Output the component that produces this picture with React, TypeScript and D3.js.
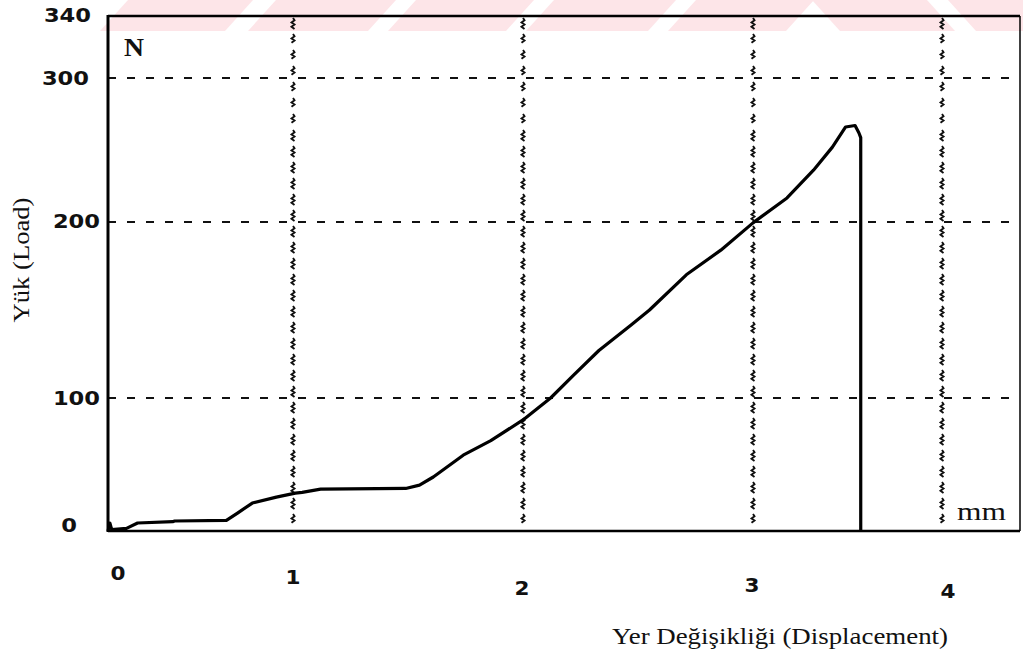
import React from "react";
import * as d3 from "d3";

// ---- data ----
const dispMm = [0, 0.01, 0.02, 0.1, 0.16, 0.35, 0.36, 0.64, 0.7, 0.78, 0.91, 1.01, 1.04, 1.12, 1.49, 1.55, 1.61, 1.74, 1.86, 2.0, 2.12, 2.22, 2.33, 2.47, 2.55, 2.71, 2.86, 3.0, 3.18, 3.32, 3.42, 3.49, 3.54, 3.56, 3.57, 3.57];
const loadN = [0, 6, 1, 2, 6, 7, 7.5, 8, 13.5, 21, 25.5, 28.5, 29, 31.5, 32, 34.5, 40.6, 57, 68, 83.5, 100, 113, 127, 141.5, 150, 170, 184, 199.5, 216.7, 236, 252, 266, 267, 262, 258.6, 0];
const xTicks = [0, 1, 2, 3, 4];
const yTicks = [0, 100, 200, 300, 340];
const yGrid = [100, 200, 300];
const xGrid = [1, 2, 3, 4];
const yTitle = "Yük (Load)";
const xTitle = "Yer Değişikliği (Displacement)";
const yUnit = "N";
const xUnit = "mm";

// ---- layout ----
const W = 1023;
const H = 657;
const LEFT = 108;
const RIGHT = 1020;
const TOP = 16;
const BOTTOM = 531;
// the plotter's axes are not uniform, so piecewise scales
const x = d3.scaleLinear().domain([0, 1, 2, 3, 4, 4.4]).range([LEFT, 293, 523, 753, 942, RIGHT]);
const y = d3.scaleLinear().domain([0, 100, 200, 300, 340]).range([BOTTOM, 398, 222, 78, TOP]);
const xLabelNudge = [[10, 42], [0, 46], [-1, 57], [-1, 54], [6, 60]];
const yLabelNudge = [[-23, -6], [0, 0], [0, -1], [-11, 0], [-9, -1]];

function squiggle(x0: number, y0: number, y1: number) {
  const p = d3.path();
  const seg = 11, gap = 5, step = 2.2, amp = 1.5;
  for (let s = y0 + 2; s < y1; s += seg + gap) {
    const e = Math.min(s + seg, y1);
    p.moveTo(x0, s);
    let k = 0;
    for (let t = s + step; t <= e; t += step) {
      k++;
      p.lineTo(x0 + (k % 2 ? amp : -amp), t);
    }
  }
  return p.toString();
}

const stripes = [
  { x0: 100, w: 125, dir: 1 },
  { x0: 248, w: 120, dir: 1 },
  { x0: 388, w: 118, dir: 1 },
  { x0: 526, w: 122, dir: 1 },
  { x0: 668, w: 118, dir: 1 },
  { x0: 812, w: 115, dir: -1 },
  { x0: 948, w: 110, dir: -1 },
];

export default function App() {
  const line = d3
    .line<number>()
    .x((_, i) => x(dispMm[i]))
    .y((d) => y(d));
  const digitFont = "'DejaVu Sans', sans-serif";
  const serif = "'Liberation Serif', 'Times New Roman', serif";
  return (
    <svg width={W} height={H} style={{ position: "absolute", left: 0, top: 0, background: "#fff" }}>
      <rect x={0} y={0} width={W} height={H} fill="#fff" />
      {/* watermark stripes */}
      {stripes.map((s, i) => {
        const sk = 28 * s.dir;
        const pts =
          s.dir > 0
            ? `${s.x0 + sk},0 ${s.x0 + s.w + sk},0 ${s.x0 + s.w},31 ${s.x0},31`
            : `${s.x0},0 ${s.x0 + s.w},0 ${s.x0 + s.w - sk},31 ${s.x0 - sk},31`;
        return <polygon key={i} points={pts} fill="#fde5e8" />;
      })}
      {/* horizontal dashed grid */}
      {yGrid.map((v) => (
        <line key={v} x1={LEFT} x2={RIGHT} y1={y(v)} y2={y(v)} stroke="#111" strokeWidth={2.2} strokeDasharray="8 11" />
      ))}
      {/* vertical squiggly grid */}
      {xGrid.map((v) => (
        <path key={v} d={squiggle(x(v), TOP, BOTTOM)} fill="none" stroke="#111" strokeWidth={1.9} />
      ))}
      {/* frame */}
      <line x1={LEFT} x2={RIGHT} y1={TOP} y2={TOP} stroke="#000" strokeWidth={2.5} />
      <line x1={LEFT} x2={RIGHT} y1={BOTTOM} y2={BOTTOM} stroke="#000" strokeWidth={2.5} />
      <line x1={RIGHT} x2={RIGHT} y1={TOP} y2={BOTTOM} stroke="#000" strokeWidth={1.5} />
      <line x1={LEFT} x2={LEFT} y1={TOP - 1} y2={BOTTOM + 1} stroke="#000" strokeWidth={3} />
      {/* curve */}
      <path d={line(loadN) || ""} fill="none" stroke="#000" strokeWidth={3.2} strokeLinejoin="round" />
      {/* y tick labels */}
      {yTicks.map((v, i) => {
        const txt = String(v);
        return (
          <text
            key={v}
            x={100 + yLabelNudge[i][0]}
            y={y(v) + yLabelNudge[i][1] + 7}
            textAnchor="end"
            fontFamily={digitFont}
            fontWeight="bold"
            fontSize={19.5}
            textLength={15.7 * txt.length}
            lengthAdjust="spacingAndGlyphs"
            fill="#111"
          >
            {txt}
          </text>
        );
      })}
      {/* x tick labels */}
      {xTicks.map((v, i) => (
        <text
          key={v}
          x={x(v) + xLabelNudge[i][0]}
          y={BOTTOM + xLabelNudge[i][1] + 7}
          textAnchor="middle"
          fontFamily={digitFont}
          fontWeight="bold"
          fontSize={19.5}
          textLength={15}
          lengthAdjust="spacingAndGlyphs"
          fill="#111"
        >
          {String(v)}
        </text>
      ))}
      {/* unit labels */}
      <text x={124} y={56} fontFamily={serif} fontWeight="bold" fontSize={26} textLength={20} lengthAdjust="spacingAndGlyphs" fill="#111">
        {yUnit}
      </text>
      <text x={957} y={520} fontFamily={serif} fontSize={26} textLength={49} lengthAdjust="spacingAndGlyphs" fill="#111">
        {xUnit}
      </text>
      {/* axis titles */}
      <text
        transform={`translate(29,260) rotate(-90)`}
        textAnchor="middle"
        fontFamily={serif}
        fontSize={24}
        textLength={125}
        lengthAdjust="spacingAndGlyphs"
        fill="#111"
      >
        {yTitle}
      </text>
      <text x={612} y={644} fontFamily={serif} fontSize={24} textLength={336} lengthAdjust="spacingAndGlyphs" fill="#111">
        {xTitle}
      </text>
    </svg>
  );
}
